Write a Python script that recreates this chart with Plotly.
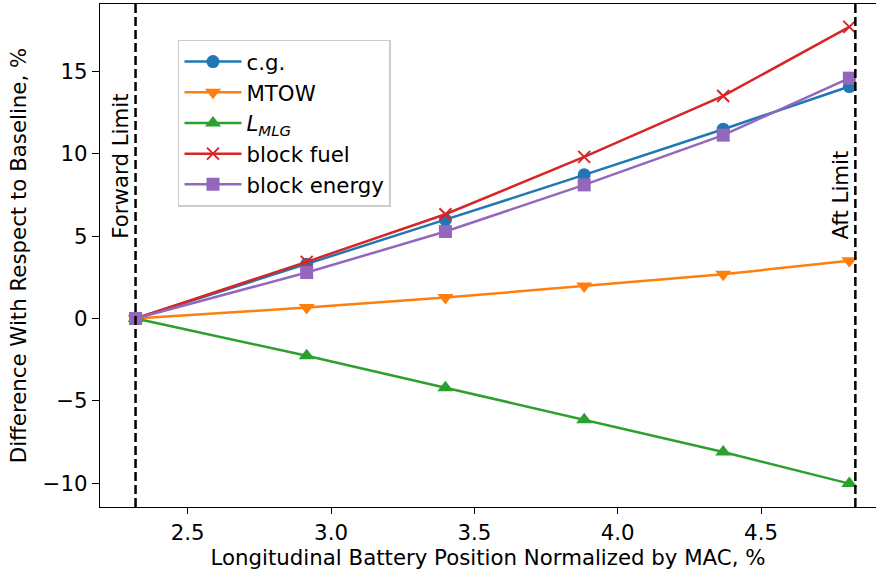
import plotly.graph_objects as go

# ---- data ----
battery_pos = [2.318, 2.915, 3.399, 3.883, 4.368, 4.808]
cg = [0.0, 3.30, 6.00, 8.72, 11.49, 14.08]
mtow = [0.0, 0.67, 1.27, 1.98, 2.69, 3.50]
l_mlg = [0.0, -2.26, -4.20, -6.15, -8.10, -10.02]
block_fuel = [0.0, 3.44, 6.33, 9.81, 13.51, 17.70]
block_energy = [0.0, 2.79, 5.28, 8.11, 11.13, 14.59]

forward_limit = 2.318
aft_limit = 4.829
limit_label_y = 5.0

x_ticks = [2.5, 3.0, 3.5, 4.0, 4.5]
y_ticks = [-10, -5, 0, 5, 10, 15]

FONT = "DejaVu Sans"
FS = 21.3

series = [
    ("c.g.", cg, "#1f77b4", "circle", 13),
    ("MTOW", mtow, "#ff7f0e", "triangle-down", 14),
    ("<i>L</i><sub><i>MLG</i></sub>", l_mlg, "#2ca02c", "triangle-up", 14),
    ("block fuel", block_fuel, "#d62728", "x-thin", 12),
    ("block energy", block_energy, "#9467bd", "square", 13),
]

fig = go.Figure()
for i, (name, vals, color, sym, size) in enumerate(series):
    marker = dict(symbol=sym, size=size, color=color)
    if sym == "x-thin":
        marker["line"] = dict(color=color, width=2)
    else:
        marker["line"] = dict(width=0)
    fig.add_trace(go.Scatter(
        x=battery_pos, y=vals, name=name, mode="lines+markers",
        line=dict(color=color, width=2.5), marker=marker,
        legendgroup=f"g{i}",
    ))

y_range = [-11.44, 19.09]

for xv in (forward_limit, aft_limit):
    fig.add_shape(type="line", xref="x", yref="paper", x0=xv, x1=xv, y0=0, y1=1,
                  line=dict(color="black", width=2.5, dash="9px,4px"), layer="above")

for xv, label in ((forward_limit, "Forward Limit"), (aft_limit, "Aft Limit")):
    fig.add_annotation(x=xv, y=limit_label_y, xref="x", yref="y",
                       text=label, textangle=-90, showarrow=False,
                       xanchor="right", yanchor="bottom", yshift=-5,
                       font=dict(family=FONT, size=FS, color="black"))

fig.update_layout(
    width=876, height=575,
    margin=dict(l=100, r=0, t=4, b=68),
    paper_bgcolor="white", plot_bgcolor="white",
    font=dict(family=FONT, size=FS, color="black"),
    showlegend=True,
    legend=dict(
        x=0.1005, y=0.929, xanchor="left", yanchor="top",
        bgcolor="rgba(255,255,255,0.8)", bordercolor="#cccccc", borderwidth=1.5,
        font=dict(family=FONT, size=FS, color="black"),
        itemwidth=57, tracegroupgap=0,
    ),
)

fig.update_xaxes(
    range=[2.194, 4.901], tickvals=x_ticks, tickformat=".1f",
    showgrid=False, zeroline=False, showline=True, linecolor="black", linewidth=1.4,
    mirror=True, ticks="outside", ticklen=6, tickwidth=1.4, tickcolor="black",
    title=dict(text="Longitudinal Battery Position Normalized by MAC, %",
               font=dict(family=FONT, size=FS), standoff=6),
)
fig.update_yaxes(
    range=y_range, tickvals=y_ticks,
    showgrid=False, zeroline=False, showline=True, linecolor="black", linewidth=1.4,
    ticks="outside", ticklen=7, tickwidth=1.4, tickcolor="black",
    title=dict(text="Difference With Respect to Baseline, %",
               font=dict(family=FONT, size=FS), standoff=10),
)

fig.write_html("out.html")
